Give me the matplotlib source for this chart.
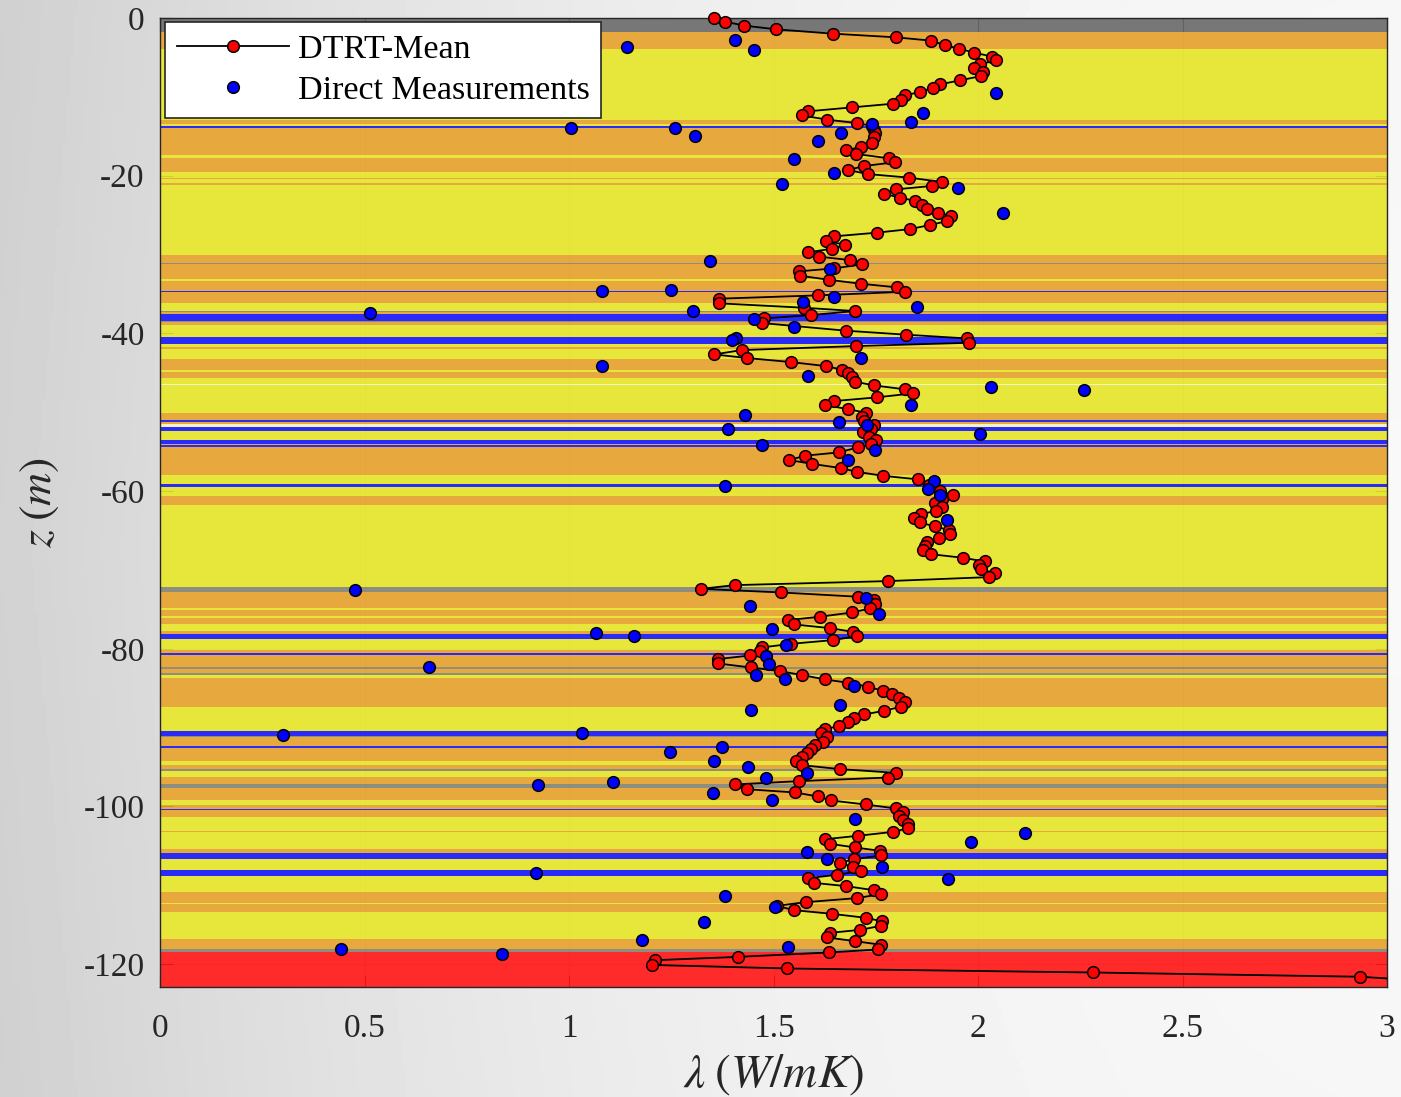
import numpy as np
import matplotlib
matplotlib.use("Agg")
import matplotlib.pyplot as plt
from matplotlib.lines import Line2D

plt.rcParams["font.family"] = ["Liberation Serif", "DejaVu Serif"]
plt.rcParams["mathtext.fontset"] = "stix"

# ---- DTRT mean conductivity profile (lambda in W/mK, depth z in m) ----
dtrt_lambda = [
    1.354, 1.381, 1.429, 1.507, 1.646, 1.799, 1.885, 1.920, 1.954, 1.991,
    2.035, 2.044, 2.004, 1.989, 2.013, 2.008, 1.955, 1.908, 1.891, 1.858,
    1.821, 1.812, 1.792, 1.692, 1.584, 1.569, 1.632, 1.703, 1.742, 1.745,
    1.747, 1.745, 1.740, 1.715, 1.678, 1.702, 1.783, 1.796, 1.722, 1.682,
    1.730, 1.832, 1.912, 1.888, 1.800, 1.769, 1.810, 1.847, 1.864, 1.875,
    1.901, 1.933, 1.925, 1.882, 1.834, 1.752, 1.647, 1.628, 1.675, 1.644,
    1.584, 1.612, 1.686, 1.717, 1.649, 1.563, 1.565, 1.635, 1.713, 1.801,
    1.822, 1.608, 1.367, 1.367, 1.575, 1.700, 1.591, 1.477, 1.472, 1.677,
    1.825, 1.972, 1.979, 1.702, 1.422, 1.355, 1.436, 1.543, 1.628, 1.668,
    1.681, 1.691, 1.699, 1.746, 1.822, 1.840, 1.752, 1.647, 1.626, 1.681,
    1.726, 1.717, 1.722, 1.746, 1.739, 1.718, 1.733, 1.751, 1.739, 1.707,
    1.659, 1.576, 1.539, 1.593, 1.664, 1.703, 1.767, 1.854, 1.879, 1.907,
    1.938, 1.912, 1.894, 1.912, 1.897, 1.860, 1.844, 1.857, 1.895, 1.929,
    1.932, 1.904, 1.876, 1.871, 1.865, 1.884, 1.963, 2.016, 2.002, 2.007,
    2.042, 2.028, 1.779, 1.405, 1.323, 1.518, 1.706, 1.746, 1.748, 1.735,
    1.692, 1.613, 1.535, 1.550, 1.637, 1.694, 1.704, 1.646, 1.544, 1.472,
    1.466, 1.443, 1.364, 1.364, 1.444, 1.516, 1.570, 1.626, 1.683, 1.732,
    1.767, 1.790, 1.806, 1.822, 1.811, 1.770, 1.722, 1.696, 1.682, 1.659,
    1.627, 1.617, 1.630, 1.621, 1.601, 1.591, 1.582, 1.570, 1.554, 1.569,
    1.663, 1.800, 1.780, 1.563, 1.405, 1.434, 1.553, 1.608, 1.640, 1.725,
    1.800, 1.816, 1.808, 1.816, 1.830, 1.829, 1.793, 1.707, 1.627, 1.638,
    1.699, 1.761, 1.764, 1.696, 1.662, 1.694, 1.715, 1.655, 1.584, 1.598,
    1.678, 1.745, 1.762, 1.703, 1.579, 1.508, 1.549, 1.643, 1.727, 1.766,
    1.763, 1.712, 1.639, 1.632, 1.700, 1.764, 1.756, 1.636, 1.413, 1.211,
    1.202, 1.534, 2.281, 2.934, 3.150,
]
dtrt_z = [
    0.00, -0.46, -0.97, -1.44, -1.99, -2.45, -2.87, -3.47, -3.89, -4.40,
    -4.90, -5.37, -5.88, -6.38, -6.81, -7.36, -7.91, -8.41, -8.84, -9.39,
    -9.81, -10.36, -10.87, -11.33, -11.84, -12.35, -12.90, -13.32, -13.70, -14.20,
    -14.60, -15.06, -15.80, -16.30, -16.80, -17.25, -17.80, -18.30, -18.77, -19.28,
    -19.79, -20.25, -20.80, -21.30, -21.73, -22.28, -22.80, -23.20, -23.70, -24.27,
    -24.70, -25.10, -25.75, -26.26, -26.77, -27.23, -27.70, -28.25, -28.76, -29.26,
    -29.72, -30.27, -30.70, -31.25, -31.75, -32.13, -32.69, -33.20, -33.70, -34.16,
    -34.72, -35.18, -35.60, -36.19, -36.75, -37.17, -37.68, -38.10, -38.69, -39.66,
    -40.17, -40.64, -41.19, -41.61, -42.12, -42.67, -43.13, -43.64, -44.15, -44.61,
    -45.08, -45.58, -46.13, -46.60, -47.10, -47.61, -48.12, -48.59, -49.09, -49.60,
    -50.06, -50.57, -51.12, -51.63, -52.14, -52.56, -53.11, -53.53, -54.00, -54.46,
    -55.10, -55.52, -56.07, -56.54, -57.08, -57.55, -58.06, -58.52, -59.24, -59.96,
    -60.51, -61.06, -61.48, -61.99, -62.50, -62.96, -63.47, -63.98, -64.49, -64.95,
    -65.50, -66.00, -66.43, -66.98, -67.49, -68.00, -68.46, -68.93, -69.39, -69.90,
    -70.45, -70.91, -71.42, -71.93, -72.40, -72.86, -73.40, -73.83, -74.38, -74.89,
    -75.40, -75.94, -76.37, -76.91, -77.38, -77.85, -78.40, -78.90, -79.37, -79.83,
    -80.34, -80.85, -81.31, -81.86, -82.37, -82.84, -83.34, -83.89, -84.32, -84.82,
    -85.33, -85.80, -86.30, -86.81, -87.36, -87.87, -88.33, -88.80, -89.30, -89.77,
    -90.23, -90.70, -91.17, -91.80, -92.22, -92.73, -93.28, -93.70, -94.25, -94.76,
    -95.27, -95.74, -96.33, -96.79, -97.21, -97.81, -98.23, -98.73, -99.24, -99.75,
    -100.26, -100.72, -101.23, -101.74, -102.20, -102.75, -103.22, -103.72, -104.15, -104.74,
    -105.20, -105.63, -106.22, -106.69, -107.15, -107.66, -108.17, -108.67, -109.10, -109.69,
    -110.11, -110.62, -111.13, -111.63, -112.14, -112.60, -113.15, -113.62, -114.13, -114.59,
    -115.14, -115.65, -116.03, -116.62, -117.09, -117.55, -118.14, -118.52, -119.08, -119.50,
    -120.10, -120.55, -121.06, -121.60, -122.30,
]

# ---- direct laboratory measurements ----
direct_lambda = [
    1.143, 1.405, 1.452, 2.045, 1.865, 1.836, 1.006, 1.258, 1.309, 1.742,
    1.665, 1.608, 1.550, 1.649, 1.521, 1.950, 2.061, 1.344, 1.639, 1.080,
    1.250, 1.649, 1.572, 1.850, 1.302, 0.513, 1.453, 1.549, 1.409, 1.399,
    1.080, 1.715, 1.585, 2.031, 2.259, 1.836, 1.430, 1.661, 1.728, 1.389,
    2.004, 1.472, 1.747, 1.681, 1.382, 1.892, 1.878, 1.908, 1.923, 0.477,
    1.727, 1.757, 1.442, 1.497, 1.066, 1.159, 1.531, 1.481, 1.489, 0.658,
    1.458, 1.527, 1.697, 1.446, 1.663, 1.031, 0.301, 1.374, 1.248, 1.355,
    1.438, 1.481, 1.108, 0.924, 1.351, 1.497, 1.583, 1.699, 2.116, 1.982,
    1.581, 1.630, 1.766, 0.919, 1.927, 1.381, 1.504, 1.331, 1.179, 1.536,
    0.443, 0.836,
]
direct_z = [
    -3.72, -2.75, -4.00, -9.56, -12.05, -13.20, -14.00, -13.90, -15.00, -13.50,
    -14.55, -15.60, -17.90, -19.70, -21.00, -21.60, -24.70, -30.80, -31.80, -34.67,
    -34.47, -35.40, -35.98, -36.62, -37.13, -37.40, -38.14, -39.16, -40.55, -40.85,
    -44.10, -43.09, -45.37, -46.85, -47.15, -49.14, -50.36, -51.29, -51.63, -52.10,
    -52.81, -54.10, -54.84, -56.07, -59.33, -58.78, -59.79, -60.55, -63.64, -72.60,
    -73.53, -75.56, -74.55, -77.51, -77.97, -78.35, -79.54, -80.89, -81.99, -82.30,
    -83.38, -83.81, -84.70, -87.82, -87.15, -90.74, -91.00, -92.44, -93.07, -94.21,
    -94.97, -96.45, -96.96, -97.30, -98.27, -99.16, -95.78, -101.53, -103.34, -104.57,
    -105.84, -106.64, -107.66, -108.50, -109.22, -111.38, -112.81, -114.64, -116.92, -117.85,
    -118.10, -118.70,
]

# ---- stratigraphic column: bottom depth of each layer and its lithology code ----
layer_bottom = [
    -1.8, -3.9, -13.0, -13.5, -13.7, -14.0, -17.4, -17.7, -19.5, -20.3,
    -20.45, -20.9, -21.2, -30.0, -31.1, -31.25, -33.1, -33.35, -34.6, -34.8,
    -36.1, -37.2, -37.35, -37.55, -38.4, -38.55, -38.9, -40.4, -41.4, -41.7,
    -42.0, -43.3, -44.7, -44.9, -45.6, -46.45, -46.55, -50.07, -51.0, -51.2,
    -51.45, -51.9, -52.35, -53.5, -54.0, -54.2, -54.4, -57.95, -59.1, -59.45,
    -60.6, -61.8, -72.2, -72.8, -74.8, -75.1, -75.9, -76.1, -76.9, -77.8,
    -78.1, -78.7, -80.2, -80.6, -80.85, -82.3, -82.6, -83.1, -83.3, -83.7,
    -87.4, -90.45, -91.1, -91.25, -92.35, -92.6, -94.2, -94.8, -95.3, -95.45,
    -96.3, -97.1, -97.6, -99.2, -99.8, -100.35, -100.5, -101.4, -103.1, -103.3,
    -105.4, -105.95, -106.7, -108.1, -108.8, -110.8, -112.2, -112.4, -113.4, -116.8,
    -118.1, -118.5, -123.5,
]
layer_kind = [
    "D", "O", "Y", "O", "Y", "B", "O", "Y", "O", "Y",
    "O", "Y", "O", "Y", "O", "G", "O", "Y", "O", "B",
    "O", "Y", "G", "O", "B", "G", "O", "Y", "B", "Y",
    "O", "Y", "O", "Y", "O", "Y", "W", "Y", "O", "B",
    "O", "W", "B", "Y", "B", "O", "B", "O", "Y", "B",
    "Y", "O", "Y", "G", "O", "Y", "O", "Y", "O", "Y",
    "O", "B", "Y", "O", "B", "O", "G", "O", "G", "Y",
    "O", "Y", "B", "G", "O", "B", "O", "Y", "O", "G",
    "Y", "O", "G", "O", "Y", "O", "B", "O", "Y", "O",
    "Y", "O", "B", "Y", "B", "Y", "O", "Y", "O", "Y",
    "O", "G", "R",
]
kind_color = {
    "D": "#686868", "O": "#E59F29", "Y": "#E5E425", "B": "#1313F9",
    "G": "#818172", "W": "#F4F2B8", "R": "#FF1313",
}

x_ticks = [0, 0.5, 1, 1.5, 2, 2.5, 3]
x_tick_labels = ["0", "0.5", "1", "1.5", "2", "2.5", "3"]
y_ticks = [0, -20, -40, -60, -80, -100, -120]
y_tick_labels = ["0", "-20", "-40", "-60", "-80", "-100", "-120"]

W, H = 1401, 1097
fig = plt.figure(figsize=(W / 100, H / 100), dpi=100)

# soft grey backdrop, darker toward the left edge
bg = fig.add_axes([0, 0, 1, 1], zorder=-10)
gx = np.linspace(0, 1, 400)
gy = np.linspace(0, 1, 300)
GX, GY = np.meshgrid(gx, gy)
shade = 0.975 - 0.15 * (1 - GX) ** 2.2 - 0.02 * np.abs(GY - 0.5)
bg.imshow(shade, extent=[0, 1, 0, 1], aspect="auto", cmap="gray",
          vmin=0, vmax=1, origin="lower")
bg.axis("off")

ax = fig.add_axes([160 / W, 110 / H, 1227 / W, 969 / H])
ax.set_facecolor("white")
ax.set_axisbelow(True)

top = 0.0
for bottom, kind in zip(layer_bottom, layer_kind):
    ax.axhspan(bottom, top, color=kind_color[kind], lw=0, alpha=0.9, zorder=1)
    top = bottom

lam = np.array(dtrt_lambda)
zz = np.array(dtrt_z)
ax.plot(lam, zz, color="black", lw=1.3, zorder=3)
inside = (lam >= 0) & (lam <= 3)
ax.plot(lam[inside], zz[inside], ls="none", marker="o", ms=8.4,
        mfc="#FF0000", mec="black", mew=1.1, zorder=4, clip_on=False)
ax.plot(direct_lambda, direct_z, ls="none", marker="o", ms=8.4,
        mfc="#0000FF", mec="black", mew=1.1, zorder=5, clip_on=False)

ax.set_xlim(0, 3)
ax.set_ylim(-122.9, 0)
ax.set_xticks(x_ticks)
ax.set_xticklabels(x_tick_labels)
ax.set_yticks(y_ticks)
ax.set_yticklabels(y_tick_labels)
ax.tick_params(direction="in", length=9, width=0.8, colors="#262626",
               labelsize=24, top=True, right=True, pad=11)
ax.tick_params(axis="x", pad=19)
ax.grid(True, color="#262626", alpha=0.15, lw=0.8)
for sp in ax.spines.values():
    sp.set_color("#262626")
    sp.set_linewidth(1.0)

ax.set_xlabel(r"$\lambda\;(W/mK)$", fontsize=34, color="#262626")
ax.xaxis.set_label_coords(0.5, -0.09)
ax.xaxis.label.set_va("center")
ax.set_ylabel(r"$z\;(m)$", fontsize=33, color="#262626")
ax.yaxis.set_label_coords(-0.098, 0.5)
ax.yaxis.label.set_va("center")

handles = [
    Line2D([], [], color="black", lw=1.3, marker="o", ms=8.4,
           mfc="#FF0000", mec="black", mew=1.1),
    Line2D([], [], ls="none", marker="o", ms=8.4,
           mfc="#0000FF", mec="black", mew=1.1),
]
leg = ax.legend(handles, ["DTRT-Mean", "Direct Measurements"],
                loc="upper left", bbox_to_anchor=(0.004, 0.996),
                fontsize=24.5, handlelength=3.3, handletextpad=0.25,
                labelspacing=0.3, borderpad=0.35, borderaxespad=0,
                fancybox=False, framealpha=1, edgecolor="#262626")
leg.get_frame().set_linewidth(1.2)
leg.set_zorder(10)

fig.savefig("out.png", dpi=100)
